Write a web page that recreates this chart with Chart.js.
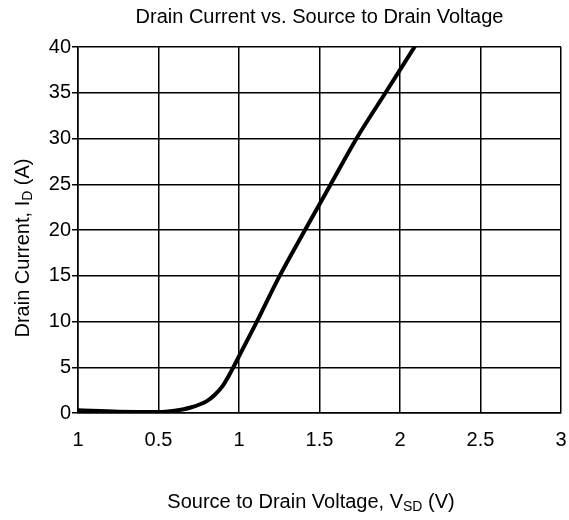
<!DOCTYPE html>
<html>
<head>
<meta charset="utf-8">
<script src="https://cdn.jsdelivr.net/npm/chart.js@4/dist/chart.umd.min.js"></script>
<style>
html,body{margin:0;padding:0;background:#fff;}
#c{display:block;}
</style>
</head>
<body>
<canvas id="c" width="569" height="520"></canvas>
<script>
// Data
const voltage = [0, 0.25, 0.5, 0.6, 0.7, 0.8, 0.85, 0.9, 0.95, 1.0, 1.1, 1.25, 1.41, 1.57, 1.73, 1.91, 2.09];
const current = [0.3, 0.15, 0.1, 0.25, 0.6, 1.3, 2.0, 3.0, 4.5, 6.2, 9.6, 14.9, 20, 25, 30, 35, 40];
const xTickLabels = ['1', '0.5', '1', '1.5', '2', '2.5', '3'];
const yTickLabels = ['0', '5', '10', '15', '20', '25', '30', '35', '40'];
const chartTitle = 'Drain Current vs. Source to Drain Voltage';
const xTitle = { main: 'Source to Drain Voltage, V', sub: 'SD', tail: ' (V)' };
const yTitle = { main: 'Drain Current, I', sub: 'D', tail: ' (A)' };

const FONT = '"Liberation Sans", Arial, Helvetica, sans-serif';

const points = voltage.map((v, i) => ({ x: v, y: current[i] }));

function drawSubText(ctx, parts, size) {
  const mainFont = size + 'px ' + FONT;
  const subFont = Math.round(size * 0.7) + 'px ' + FONT;
  ctx.font = mainFont;
  const w1 = ctx.measureText(parts.main).width;
  const w3 = ctx.measureText(parts.tail).width;
  ctx.font = subFont;
  const w2 = ctx.measureText(parts.sub).width;
  const total = w1 + w2 + w3;
  let x = -total / 2;
  ctx.textBaseline = 'middle';
  ctx.textAlign = 'left';
  ctx.font = mainFont;
  ctx.fillText(parts.main, x, 0);
  x += w1;
  ctx.font = subFont;
  ctx.fillText(parts.sub, x, size * 0.28);
  x += w2;
  ctx.font = mainFont;
  ctx.fillText(parts.tail, x, 0);
}

const axisTitles = {
  id: 'axisTitles',
  afterDraw(chart) {
    const ctx = chart.ctx;
    const a = chart.chartArea;
    ctx.save();
    ctx.fillStyle = '#000';
    ctx.translate(311, a.bottom + 89);
    drawSubText(ctx, xTitle, 20);
    ctx.restore();
    ctx.save();
    ctx.fillStyle = '#000';
    ctx.translate(23, (a.top + a.bottom) / 2 + 18);
    ctx.rotate(-Math.PI / 2);
    drawSubText(ctx, yTitle, 20);
    ctx.restore();
  }
};

new Chart(document.getElementById('c'), {
  type: 'line',
  data: {
    datasets: [{
      data: points,
      borderColor: '#000',
      borderWidth: 4,
      pointRadius: 0,
      fill: false,
      cubicInterpolationMode: 'monotone',
      borderCapStyle: 'round'
    }]
  },
  options: {
    responsive: false,
    animation: false,
    devicePixelRatio: 1,
    layout: { padding: { left: 0, right: 8, top: 0, bottom: 0 } },
    plugins: {
      legend: { display: false },
      tooltip: { enabled: false },
      title: {
        display: true,
        fullSize: false,
        text: chartTitle,
        color: '#000',
        font: { family: FONT, size: 20, weight: 'normal', lineHeight: 1.2 },
        padding: { top: 5, bottom: 18 }
      }
    },
    scales: {
      x: {
        type: 'linear',
        min: 0, max: 3,
        ticks: {
          stepSize: 0.5,
          color: '#000',
          font: { family: FONT, size: 20 },
          padding: 15,
          maxRotation: 0,
          callback: (v, i) => xTickLabels[i]
        },
        grid: { color: '#000', lineWidth: 1.5, drawTicks: false },
        border: { color: '#000', width: 1.5 },
        afterFit: s => { s.height = 107; s.paddingRight = 0; s.paddingLeft = 0; }
      },
      y: {
        min: 0, max: 40,
        ticks: {
          stepSize: 5,
          color: '#000',
          font: { family: FONT, size: 20 },
          padding: 1,
          callback: (v, i) => yTickLabels[i]
        },
        grid: { color: '#000', lineWidth: 1.5, tickLength: 6 },
        border: { color: '#000', width: 1.5 },
        afterFit: s => { s.width = 78; s.paddingTop = 0; s.paddingBottom = 0; }
      }
    }
  },
  plugins: [axisTitles]
});
</script>
</body>
</html>
